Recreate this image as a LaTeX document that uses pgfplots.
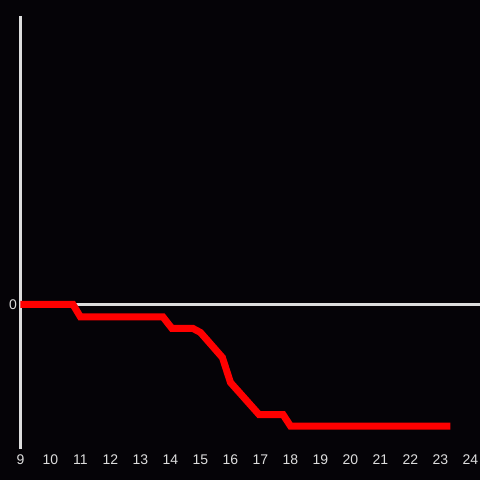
\documentclass[border=0pt]{standalone}
\usepackage{pgfplots}
\pgfplotsset{compat=1.18}
\usepackage{fontspec}
\setmainfont{Liberation Sans}
\definecolor{bg}{HTML}{050307}
\definecolor{fg}{HTML}{DDDDDD}
\definecolor{redline}{HTML}{FF0000}
\begin{document}
\begin{tikzpicture}
\path[use as bounding box, fill=bg] (0,0) rectangle (480pt,480pt);
\begin{axis}[
  at={(20.5pt,31pt)}, anchor=south west,
  scale only axis, width=459.5pt, height=433pt,
  xmin=9, xmax=24.3167, ymin=-144.5, ymax=288.5,
  axis lines*=left,
  x axis line style={draw=none},
  y axis line style={fg, line width=3pt},
  xtick={9,...,24},
  ytick={0},
  major tick length=0pt,
  ymajorgrids, grid style={fg, line width=3pt},
  tick label style={font=\fontsize{14}{14}\selectfont, text=fg},
  xticklabel style={yshift=-2pt},
  /pgf/number format/assume math mode=true,
  clip=false,
]
\addplot[redline, line width=7pt, line join=miter] coordinates {
(9,0) (10.75,0) (11.0,-12.5) (13.75,-12.5) (14.05,-24) (14.75,-24) (15.0,-28) (15.73,-53) (16.0,-78) (16.95,-110) (17.75,-110) (18.0,-121.5) (23.33,-121.5)
};
\end{axis}
\end{tikzpicture}
\end{document}
